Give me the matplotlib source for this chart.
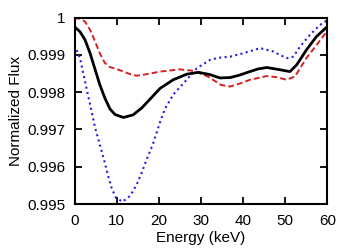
import matplotlib
matplotlib.use("Agg")
import matplotlib.pyplot as plt

plt.rcParams["font.family"] = ["Liberation Sans", "DejaVu Sans"]

# solid black curve
energy_black = [0, 1.3, 2.5, 3.7, 4.9, 6.0, 7.2, 8.4, 9.6, 11.6, 13.9, 15.9,
                17.9, 20.3, 23.4, 26.6, 29.4, 32.1, 34.5, 36.9, 39.0, 41.6,
                43.5, 45.6, 48.7, 51.1, 52.7, 55.0, 57.4, 60]
flux_black = [0.99975, 0.99962, 0.9994, 0.99904, 0.9986, 0.9982, 0.99784,
              0.99755, 0.9974, 0.99732, 0.99739, 0.99757, 0.99781, 0.9981,
              0.99833, 0.99848, 0.99853, 0.99847, 0.99838, 0.99839, 0.99845,
              0.99855, 0.99862, 0.99866, 0.9986, 0.99855, 0.99873, 0.99913,
              0.99949, 0.99976]

# dashed red curve
energy_red = [0, 1.3, 2.5, 3.7, 4.9, 6.0, 7.2, 8.4, 10.0, 11.6, 13.2, 14.7,
              17.1, 20.3, 25.0, 28.2, 31.6, 34.8, 36.9, 39.0, 41.6, 45.6,
              48.0, 50.3, 52.3, 55.0, 57.4, 60]
flux_red = [0.99998, 0.99997, 0.99989, 0.99967, 0.99935, 0.99904, 0.99878,
            0.99867, 0.99862, 0.99855, 0.99848, 0.99844, 0.99848, 0.99855,
            0.99861, 0.99857, 0.99842, 0.99819, 0.99815, 0.99822, 0.99833,
            0.99843, 0.9984, 0.99833, 0.99842, 0.99891, 0.99926, 0.99965]

# dotted blue curve
energy_blue = [0, 1.3, 2.5, 3.7, 4.9, 6.0, 7.2, 8.0, 8.8, 9.8, 11.4, 13.2,
               14.7, 15.9, 17.1, 18.7, 20.3, 21.5, 23.4, 26.6, 29.0,
               32.1, 34.1, 36.9, 40.0, 44.0, 47.1, 50.3, 51.9, 53.5, 55.8,
               58.2, 60]
flux_blue = [0.99926, 0.99891, 0.99828, 0.99766, 0.99704, 0.99659, 0.9961,
             0.99574, 0.99543, 0.99517, 0.99506, 0.99522, 0.99551, 0.99583,
             0.99619, 0.99664, 0.9972, 0.99756, 0.99793, 0.99833, 0.99864,
             0.99886, 0.99892, 0.99895, 0.99904, 0.99918, 0.99909, 0.99891,
             0.99895, 0.99922, 0.99953, 0.9998, 0.99993]

x_ticks = [0, 10, 20, 30, 40, 50, 60]
y_ticks = [0.995, 0.996, 0.997, 0.998, 0.999, 1.0]
y_tick_labels = ["0.995", "0.996", "0.997", "0.998", "0.999", "1"]

fig = plt.figure(figsize=(3.54, 2.48), dpi=100)
ax = fig.add_axes([0.2105, 0.1774, 0.7145, 0.752])

ax.plot(energy_red, flux_red, color="#d62020", lw=1.4, ls=(0, (3, 1.6)))
ax.plot(energy_blue, flux_blue, color="#2020e0", lw=1.5, ls=(0, (1, 1.6)))
ax.plot(energy_black, flux_black, color="black", lw=2.0)

ax.set_xlim(0, 60)
ax.set_ylim(0.995, 1.0)
ax.set_xticks(x_ticks)
ax.set_yticks(y_ticks)
ax.set_yticklabels(y_tick_labels)
ax.tick_params(direction="in", length=5, width=1.3, top=True, right=True,
               labelsize=11)
ax.tick_params(axis="x", pad=7)
ax.tick_params(axis="y", pad=6.5)
for s in ax.spines.values():
    s.set_linewidth(1.5)

ax.set_xlabel("Energy (keV)", fontsize=11, labelpad=2)
ax.set_ylabel("Normalized Flux", fontsize=11, labelpad=3)

fig.savefig("out.png", dpi=100)
